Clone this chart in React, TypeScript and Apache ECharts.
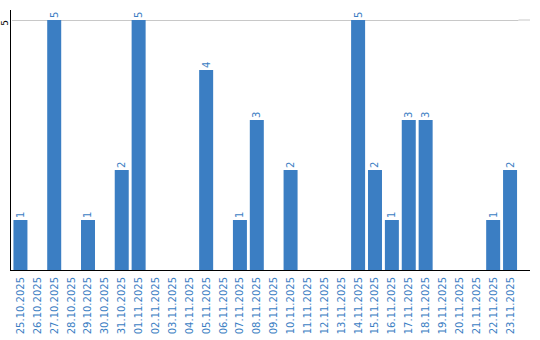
import React, { useEffect, useRef } from "react";
import * as echarts from "echarts";

const categories: string[] = [
  "25.10.2025", "26.10.2025", "27.10.2025", "28.10.2025", "29.10.2025", "30.10.2025",
  "31.10.2025", "01.11.2025", "02.11.2025", "03.11.2025", "04.11.2025", "05.11.2025",
  "06.11.2025", "07.11.2025", "08.11.2025", "09.11.2025", "10.11.2025", "11.11.2025",
  "12.11.2025", "13.11.2025", "14.11.2025", "15.11.2025", "16.11.2025", "17.11.2025",
  "18.11.2025", "19.11.2025", "20.11.2025", "21.11.2025", "22.11.2025", "23.11.2025",
];
const values: number[] = [
  1, 0, 5, 0, 1, 0, 2, 5, 0, 0, 0, 4, 0, 1, 3, 0, 2, 0, 0, 0, 5, 2, 1, 3, 3, 0, 0, 0, 1, 2,
];
const yTickLabels: number[] = [5];

const BLUE = "#3b7ec3";
const FONT = "DejaVu Sans";

export default function App() {
  const ref = useRef<HTMLDivElement>(null);
  useEffect(() => {
    if (!ref.current) return;
    const chart = echarts.init(ref.current, undefined, { renderer: "svg" });
    chart.setOption({
      animation: false,
      grid: { left: 8.5, top: 10, right: 21.5, bottom: 70, containLabel: false },
      graphic: [
        { type: "line", z: 100, shape: { x1: 10, y1: 270.5, x2: 530, y2: 270.5 }, style: { stroke: "#000", lineWidth: 1 }, silent: true },
        { type: "line", z: 100, shape: { x1: 10.5, y1: 10, x2: 10.5, y2: 270 }, style: { stroke: "#000", lineWidth: 1 }, silent: true },
        { type: "line", z: -1, shape: { x1: 518.5, y1: 20, x2: 530, y2: 20 }, style: { stroke: "#c8c8c8", lineWidth: 1 }, silent: true },
      ],
      xAxis: {
        type: "category",
        data: categories,
        axisLine: { show: false },
        axisTick: { show: false },
        axisLabel: {
          rotate: 90,
          interval: 0,
          margin: 7,
          color: BLUE,
          fontFamily: FONT,
          fontSize: 10,
        },
        splitLine: { show: false },
      },
      yAxis: {
        type: "value",
        min: 0,
        max: 5.2,
        interval: 5,
        axisLine: { show: false },
        axisTick: { show: false },
        splitLine: { show: false },
        axisLabel: {
          rotate: 90,
          align: "right",
          margin: 3,
          color: "#000",
          fontFamily: FONT,
          fontSize: 9,
          formatter: (v: number) => (yTickLabels.includes(v) ? String(v) : ""),
        },
      },
      series: [
        {
          type: "bar",
          data: values,
          barWidth: 14,
          itemStyle: { color: BLUE },
          label: {
            show: true,
            position: "top",
            rotate: 90,
            align: "left",
            verticalAlign: "middle",
            distance: 2,
            color: BLUE,
            fontFamily: FONT,
            fontSize: 10,
            formatter: (p: any) => (p.value ? String(p.value) : ""),
          },
          markLine: {
            silent: true,
            symbol: "none",
            label: { show: false },
            lineStyle: { color: "#c8c8c8", type: "solid", width: 1 },
            data: yTickLabels.map((v) => ({ yAxis: v })),
            z: 1,
          },
        },
      ],
    });
    return () => chart.dispose();
  }, []);
  return (
    <div
      ref={ref}
      style={{ position: "fixed", left: 0, top: 0, width: 540, height: 340, background: "#fff" }}
    />
  );
}
